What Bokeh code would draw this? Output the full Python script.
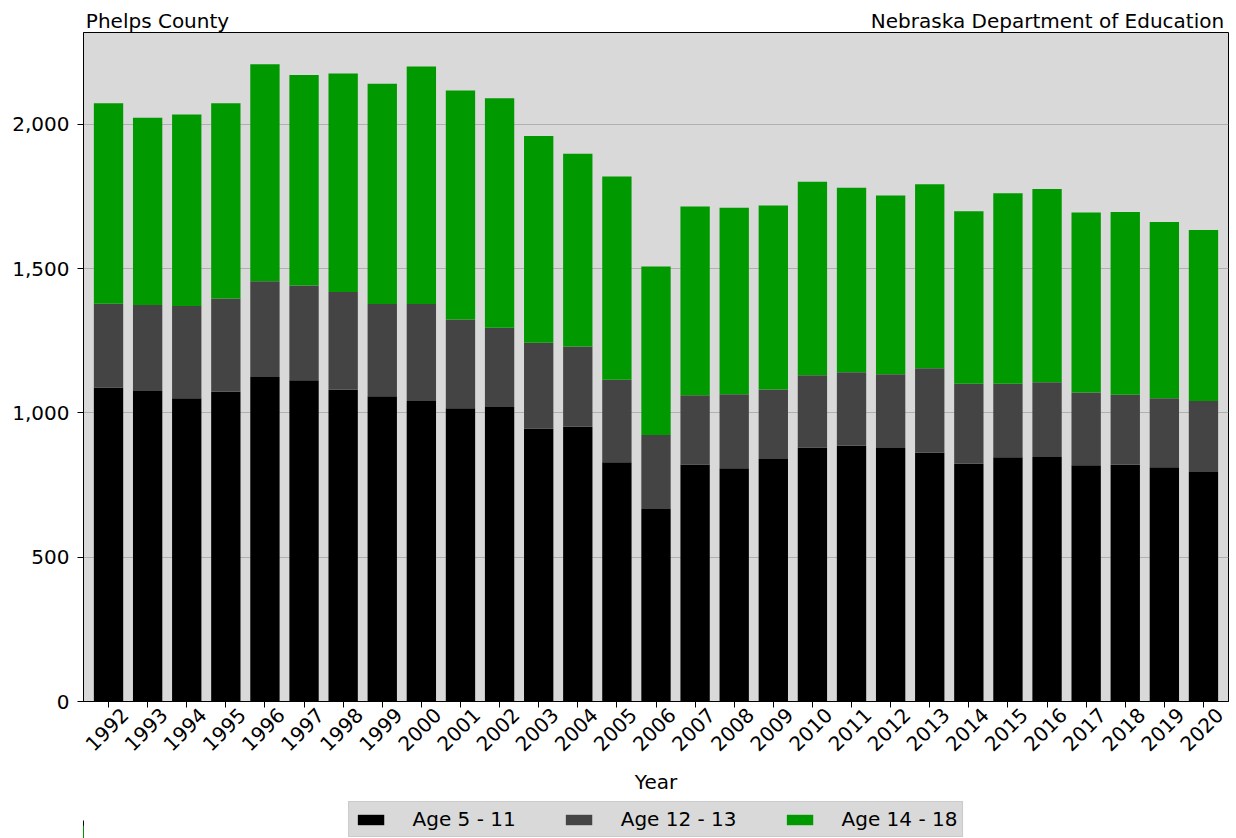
import math
from bokeh.plotting import figure
from bokeh.layouts import column
from bokeh.models import (Range1d, FixedTicker, NumeralTickFormatter, Legend,
                          LegendItem, LinearAxis, ColumnDataSource)
from bokeh.embed import file_html
from bokeh.resources import INLINE

years = list(range(1992, 2021))
age_5_11 = [1088, 1076, 1051, 1073, 1124, 1113, 1080, 1058, 1041, 1016,
            1020, 946, 952, 829, 667, 821, 808, 840, 880, 886,
            878, 862, 824, 846, 847, 819, 820, 812, 795]
age_12_13 = [290, 298, 319, 323, 332, 328, 339, 319, 336, 308,
             275, 297, 278, 286, 256, 240, 257, 241, 250, 255,
             256, 293, 277, 255, 259, 252, 243, 239, 246]
age_14_18 = [695, 649, 664, 677, 752, 730, 757, 763, 823, 793,
             795, 716, 668, 704, 584, 654, 646, 638, 671, 639,
             619, 637, 598, 660, 670, 623, 633, 610, 593]
series_names = ["Age 5 - 11", "Age 12 - 13", "Age 14 - 18"]
series_colors = ["#000000", "#444444", "#009900"]
y_ticks = [0, 500, 1000, 1500, 2000]
header_left = "Phelps County"
header_right = "Nebraska Department of Education"

FONT = "DejaVu Sans"
FS = "20px"

src = ColumnDataSource(dict(year=years, a=age_5_11, b=age_12_13, c=age_14_18))

p = figure(frame_width=1145, frame_height=669,
           min_border_left=83, min_border_right=8, min_border_top=32, min_border_bottom=99,
           x_range=Range1d(years[0] - 0.64, years[-1] + 0.64),
           y_range=Range1d(0, 2318),
           output_backend="svg", toolbar_location=None)
p.extra_x_ranges = {"hdr": Range1d(0, 1145)}

renderers = p.vbar_stack(["a", "b", "c"], x="year", width=0.75, source=src,
                         color=series_colors, line_color=None)

p.background_fill_color = "#d9d9d9"
p.border_fill_color = "white"
p.outline_line_color = "black"
p.outline_line_width = 1

p.xgrid.grid_line_color = None
p.ygrid.grid_line_color = "#b0b0b0"
p.ygrid.grid_line_width = 1

def style_axis(ax):
    ax.major_label_text_font = FONT
    ax.major_label_text_font_size = FS
    ax.major_label_text_color = "black"
    ax.axis_line_color = "black"
    ax.major_tick_line_color = "black"
    ax.major_tick_out = 6
    ax.major_tick_in = 0
    ax.minor_tick_line_color = None
    ax.axis_label_text_font = FONT
    ax.axis_label_text_font_size = FS
    ax.axis_label_text_font_style = "normal"
    ax.axis_label_text_color = "black"

# y axis
yax = p.yaxis[0]
style_axis(yax)
yax.ticker = FixedTicker(ticks=y_ticks)
yax.formatter = NumeralTickFormatter(format="0,0")
yax.major_label_standoff = 8

# x axis: tick marks only
xax = p.xaxis[0]
style_axis(xax)
xax.ticker = FixedTicker(ticks=years)
xax.major_label_overrides = {y: "" for y in years}
xax.major_label_text_font_size = "1px"
xax.major_label_standoff = 0

# x axis: rotated year labels (centred under the ticks like the reference)
lab_ax = LinearAxis(ticker=FixedTicker(ticks=[y + 0.42 for y in years]),
                    formatter=NumeralTickFormatter(format="0"))
style_axis(lab_ax)
lab_ax.axis_line_color = None
lab_ax.major_tick_line_color = None
lab_ax.major_tick_out = 0
lab_ax.major_label_standoff = 4
lab_ax.major_label_orientation = math.pi / 4
lab_ax.axis_label = "Year"
lab_ax.axis_label_standoff = 10
p.add_layout(lab_ax, "below")

# header texts drawn as the labels of a bare axis above the frame
hdr = LinearAxis(x_range_name="hdr", ticker=FixedTicker(ticks=[74, 964]),
                 major_label_overrides={74: header_left, 964: header_right})
style_axis(hdr)
hdr.axis_line_color = None
hdr.major_tick_line_color = None
hdr.major_tick_out = 0
hdr.major_label_standoff = 0
p.add_layout(hdr, "above")

# legend strip below the chart (its bars use the same data, kept out of view)
pl = figure(width=1236, height=38, min_border_left=83, min_border_right=8,
            min_border_top=0, min_border_bottom=0,
            x_range=Range1d(years[-1] + 1.5, years[-1] + 2.5), y_range=Range1d(0, 2318),
            x_axis_type=None, y_axis_type=None,
            output_backend="svg", toolbar_location=None)
pl.outline_line_color = None
pl.background_fill_color = "white"
pl.border_fill_color = "white"
pl.xgrid.grid_line_color = None
pl.ygrid.grid_line_color = None
leg_renderers = [pl.vbar(x="year", top=col, width=0.75, source=src, color=c, line_color=None)
                 for col, c in zip(["a", "b", "c"], series_colors)]

legend = Legend(items=[LegendItem(label=n, renderers=[r]) for n, r in zip(series_names, leg_renderers)],
                orientation="horizontal", location="center",
                label_text_font=FONT, label_text_font_size=FS, label_text_color="black",
                glyph_width=33, glyph_height=13, label_standoff=26, spacing=46,
                padding=5, margin=0, label_height=20,
                background_fill_color="#d9d9d9", background_fill_alpha=1.0,
                border_line_color="#bdbdbd", border_line_width=1)
pl.add_layout(legend)

layout = column(p, pl, spacing=0)
open("out.html", "w").write(file_html(layout, INLINE))
